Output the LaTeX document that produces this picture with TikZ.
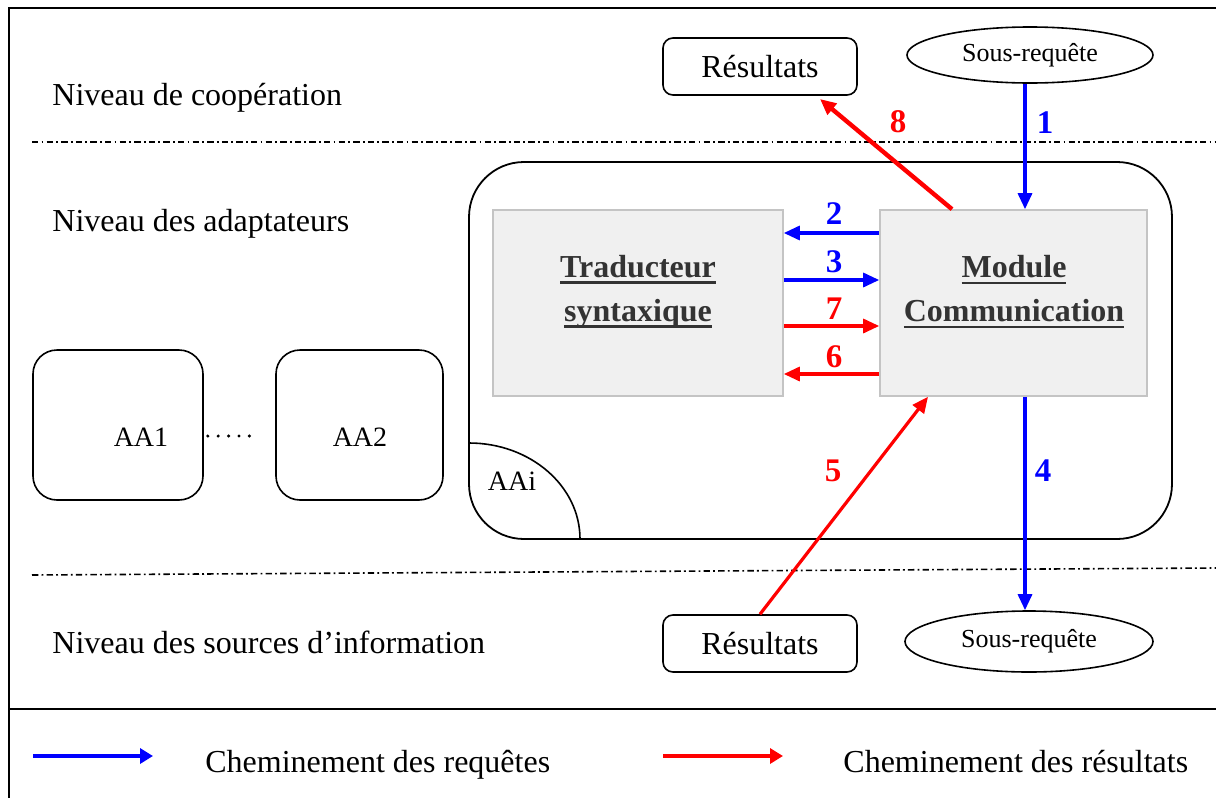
\documentclass[tikz,border=0pt]{standalone}
\usepackage{fontspec}
\setmainfont{Liberation Serif}
\usetikzlibrary{arrows.meta,shapes.geometric,calc}
\definecolor{reqblue}{HTML}{0000FF}
\definecolor{resred}{HTML}{FF0000}
\definecolor{boxfill}{HTML}{F0F0F0}
\definecolor{boxline}{HTML}{C4C4C4}
\definecolor{darktext}{HTML}{333333}
% bold title with a heavy underline
\newcommand\ulbold[1]{\setbox0\hbox{\bfseries #1}\leavevmode\rlap{\raisebox{-3.2pt}{\rule{\wd0}{1.4pt}}}\box0}
\tikzset{
  txt/.style={font=\fontsize{16}{19}\selectfont, inner sep=0pt},
  numlbl/.style={font=\fontsize{16.5}{19}\selectfont\bfseries, inner sep=0pt},
  resbox/.style={draw, line width=0.8pt, rounded corners=5pt, minimum width=97pt, minimum height=28.5pt, inner sep=0pt, font=\fontsize{16}{19}\selectfont},
  reqell/.style={draw, ellipse, line width=0.8pt, inner sep=0pt, font=\fontsize{13}{15}\selectfont},
  graybox/.style={draw=boxline, fill=boxfill, line width=0.8pt, minimum height=93pt, inner sep=0pt},
  aabox/.style={draw, line width=0.8pt, rounded corners=12pt, minimum height=75pt, inner sep=0pt},
  aatxt/.style={font=\fontsize{14}{17}\selectfont, inner sep=0pt},
  title/.style={font=\fontsize{16}{21}\selectfont, text=darktext, align=center, inner sep=0pt},
  reqarrow/.style={draw=reqblue, line width=1.6pt, -{Triangle[length=8pt,width=7pt]}, reqblue},
  resarrow/.style={draw=resred, line width=1.6pt, -{Triangle[length=8pt,width=7pt]}, resred},
  legarrow/.style={line width=1.8pt, -{Triangle[length=6.5pt,width=7.5pt]}},
  levelsep/.style={line width=0.8pt, dash pattern=on 3.2pt off 1.6pt on 0.9pt off 1.6pt},
}
\begin{document}
\begin{tikzpicture}[x=0.5pt, y=-0.5pt]
\useasboundingbox (0,0) rectangle (1216,798);

% outer frame and legend separator
\draw[line width=1.4pt] (9,798) -- (9,8) -- (1216,8);
\draw[line width=1pt] (9,709) -- (1216,709);

% level separators
\draw[levelsep] (32,142) -- (1216,142);
\draw[levelsep] (32,575) -- (1216,568);

% level names
\node[txt, anchor=base west] (lvlcoop) at (52,105) {Niveau de coopération};
\node[txt, anchor=base west] (lvladapt) at (52,231) {Niveau des adaptateurs};
\node[txt, anchor=base west] (lvlsrc) at (52,653) {Niveau des sources d’information};

% cooperation level
\node[resbox] (resTop) at (760,66.5) {Résultats};
\node[reqell, minimum width=123pt, minimum height=28pt] (sqTop) at (1030,55) {Sous-requête};

% adapter AAi
\draw[line width=0.9pt, rounded corners=27.5pt] (469,162) rectangle (1172,539);
\draw[line width=0.8pt] (469,443) arc[start angle=90, end angle=0, x radius=55.5pt, y radius=48pt];
\node[aatxt] (aai) at (512,481) {AAi};

\node[graybox, minimum width=145pt] (trad) at (638,303) {};
\node[title] (tradtxt) at (638,292) {\ulbold{Traducteur}\\[1pt]\ulbold{syntaxique}};
\node[graybox, minimum width=133.5pt] (mod) at (1013.5,303) {};
\node[title] (modtxt) at (1014,292) {\ulbold{Module}\\[1pt]\ulbold{Communication}};

% other adapters
\node[aabox, minimum width=85pt] (aa1) at (118,425) {};
\node[aatxt] (aa1txt) at (141,437) {AA1};
\node[aabox, minimum width=83.5pt] (aa2) at (359.5,425) {};
\node[aatxt] (aa2txt) at (360,437) {AA2};
\coordinate (dotrow) at (0,436);
\coordinate (dotend) at (258,436);
\draw[line width=1.7pt, line cap=round, dash pattern=on 0pt off 5.2pt] ([xshift=2pt]aa1.east |- dotrow) -- (dotend);

% source level
\node[resbox] (resBot) at (760,643.5) {Résultats};
\node[reqell, minimum width=124pt, minimum height=30.5pt] (sqBot) at (1029,641.5) {Sous-requête};

% columns and rows for the connectors
\coordinate (cReq) at (1025,0);
\coordinate (c8) at (952,0);
\coordinate (c5) at (928,0);
\coordinate (t8) at (820,99);
\coordinate (r2) at (0,233);
\coordinate (r3) at (0,280);
\coordinate (r7) at (0,326);
\coordinate (r6) at (0,374);

% request path
\draw[reqarrow] (sqTop.south -| cReq) -- (mod.north -| cReq);
\draw[reqarrow] (mod.west |- r2) -- (trad.east |- r2);
\draw[reqarrow] (trad.east |- r3) -- (mod.west |- r3);
\draw[reqarrow] (mod.south -| cReq) -- (sqBot.north -| cReq);

% result path
\draw[resarrow] (resBot.north) -- (mod.south -| c5);
\draw[resarrow] (mod.west |- r6) -- (trad.east |- r6);
\draw[resarrow] (trad.east |- r7) -- (mod.west |- r7);
\draw[resarrow, line width=2.2pt] (mod.north -| c8) -- (t8);

% step numbers
\node[numlbl, text=reqblue] (n1) at (1045,123) {1};
\node[numlbl, text=reqblue] (n2) at (834,214) {2};
\node[numlbl, text=reqblue] (n3) at (834,262) {3};
\node[numlbl, text=reqblue] (n4) at (1043,471) {4};
\node[numlbl, text=resred] (n5) at (833,471) {5};
\node[numlbl, text=resred] (n6) at (834,357) {6};
\node[numlbl, text=resred] (n7) at (834,309) {7};
\node[numlbl, text=resred] (n8) at (898,122) {8};

% legend
\coordinate (lbS) at (33,756);
\coordinate (lbE) at (153,756);
\coordinate (lrS) at (663,756);
\coordinate (lrE) at (783,756);
\draw[legarrow, draw=reqblue, fill=reqblue] (lbS) -- (lbE);
\draw[legarrow, draw=resred, fill=resred] (lrS) -- (lrE);
\node[txt, anchor=base west] (legreq) at (205,772) {Cheminement des requêtes};
\node[txt, anchor=base west] (legres) at (843,772) {Cheminement des résultats};
\end{tikzpicture}
\end{document}
